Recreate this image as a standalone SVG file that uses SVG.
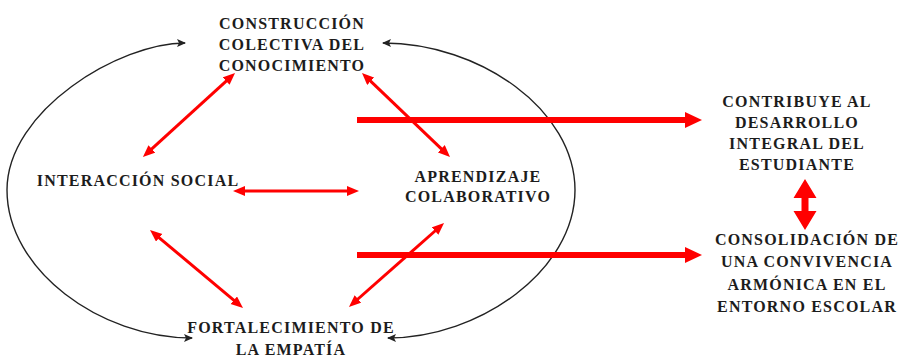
<svg xmlns="http://www.w3.org/2000/svg" width="900" height="357" viewBox="0 0 900 357">
<style>
.t{font-family:"Liberation Serif","Times New Roman",serif;font-weight:bold;font-size:16px;fill:#1c1c1c;text-anchor:middle;letter-spacing:1.2px}
.arc{fill:none;stroke:#222;stroke-width:1.4}
.thin{fill:none;stroke:#ff0000;stroke-width:3}
.thick{fill:none;stroke:#ff0000;stroke-width:6}
</style>
<defs>
<marker id="ba" markerUnits="userSpaceOnUse" markerWidth="10" markerHeight="8" refX="8" refY="4" orient="auto-start-reverse"><path d="M0,0 L9,4 L0,8 L2,4 z" fill="#222"/></marker>
<marker id="ra" markerUnits="userSpaceOnUse" markerWidth="13" markerHeight="11" refX="3" refY="5" orient="auto-start-reverse"><path d="M0,0 L12,5 L0,10 z" fill="#ff0000"/></marker>
<marker id="rb" markerUnits="userSpaceOnUse" markerWidth="18" markerHeight="17" refX="2" refY="8" orient="auto"><path d="M0,0 L17,8 L0,16 z" fill="#ff0000"/></marker>
</defs>
<g id="connectors">
<path class="arc" d="M185,43 C120,43 7,110 7,190 C7,270 100,338 192,338" marker-start="url(#ba)" marker-end="url(#ba)"/>
<path class="arc" d="M383,43 C480,43 575,110 575,190 C575,270 480,338 388,338" marker-start="url(#ba)" marker-end="url(#ba)"/>
<line class="thin" x1="228.4" y1="79.1" x2="149.6" y2="150.9" marker-start="url(#ra)" marker-end="url(#ra)"/>
<line class="thin" x1="368.5" y1="79.2" x2="443.5" y2="150.8" marker-start="url(#ra)" marker-end="url(#ra)"/>
<line class="thin" x1="242" y1="191" x2="350" y2="191" marker-start="url(#ra)" marker-end="url(#ra)"/>
<line class="thin" x1="156.9" y1="235.8" x2="236.1" y2="302.2" marker-start="url(#ra)" marker-end="url(#ra)"/>
<line class="thin" x1="437.3" y1="229" x2="355.7" y2="301" marker-start="url(#ra)" marker-end="url(#ra)"/>
<line class="thick" x1="357" y1="120" x2="687" y2="120" marker-end="url(#rb)"/>
<line class="thick" x1="357" y1="255" x2="687" y2="255" marker-end="url(#rb)"/>
<polygon points="805,179 816.5,198 808.5,198 808.5,211 816.5,211 805,230 793.5,211 801.5,211 801.5,198 793.5,198" fill="#ff0000"/>
</g>
<g id="construccion">
<text class="t" x="292" y="29">CONSTRUCCIÓN</text>
<text class="t" x="292" y="50">COLECTIVA DEL</text>
<text class="t" x="292" y="71">CONOCIMIENTO</text>
</g>
<g id="interaccion">
<text class="t" x="138" y="186">INTERACCIÓN SOCIAL</text>
</g>
<g id="aprendizaje">
<text class="t" x="478" y="182">APRENDIZAJE</text>
<text class="t" x="478" y="202">COLABORATIVO</text>
</g>
<g id="fortalecimiento">
<text class="t" x="291" y="333">FORTALECIMIENTO DE</text>
<text class="t" x="291" y="355">LA EMPATÍA</text>
</g>
<g id="contribuye">
<text class="t" x="797" y="107">CONTRIBUYE AL</text>
<text class="t" x="797" y="128">DESARROLLO</text>
<text class="t" x="797" y="149">INTEGRAL DEL</text>
<text class="t" x="797" y="170">ESTUDIANTE</text>
</g>
<g id="consolidacion">
<text class="t" x="807" y="245">CONSOLIDACIÓN DE</text>
<text class="t" x="807" y="267">UNA CONVIVENCIA</text>
<text class="t" x="807" y="290">ARMÓNICA EN EL</text>
<text class="t" x="807" y="312">ENTORNO ESCOLAR</text>
</g>
</svg>
